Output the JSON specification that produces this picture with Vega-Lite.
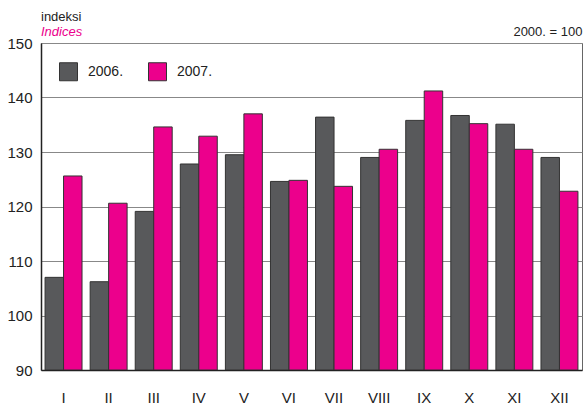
{
  "$schema": "https://vega.github.io/schema/vega-lite/v6.json",
  "width": 541,
  "height": 327,
  "autosize": {"type": "none"},
  "padding": {"left": 41, "top": 43, "right": 2, "bottom": 36},
  "background": "white",
  "config": {
    "font": "Liberation Sans",
    "view": {"stroke": "#666", "strokeWidth": 1}
  },
  "title": {
    "text": "indeksi",
    "subtitle": "Indices",
    "anchor": "start",
    "frame": "group",
    "dx": 0,
    "offset": -13,
    "font": "Liberation Sans",
    "fontSize": 13,
    "fontWeight": "normal",
    "color": "#222",
    "subtitleFont": "Liberation Sans",
    "subtitleFontSize": 13,
    "subtitleFontStyle": "italic",
    "subtitleColor": "#ec008c",
    "subtitlePadding": 2
  },
  "datasets": {
    "bars": [
      {"month": "I", "year": "2006.", "value": 107.0},
      {"month": "I", "year": "2007.", "value": 125.6},
      {"month": "II", "year": "2006.", "value": 106.2},
      {"month": "II", "year": "2007.", "value": 120.6},
      {"month": "III", "year": "2006.", "value": 119.1},
      {"month": "III", "year": "2007.", "value": 134.6},
      {"month": "IV", "year": "2006.", "value": 127.8},
      {"month": "IV", "year": "2007.", "value": 132.9},
      {"month": "V", "year": "2006.", "value": 129.5},
      {"month": "V", "year": "2007.", "value": 137.0},
      {"month": "VI", "year": "2006.", "value": 124.6},
      {"month": "VI", "year": "2007.", "value": 124.8},
      {"month": "VII", "year": "2006.", "value": 136.4},
      {"month": "VII", "year": "2007.", "value": 123.7},
      {"month": "VIII", "year": "2006.", "value": 129.0},
      {"month": "VIII", "year": "2007.", "value": 130.5},
      {"month": "IX", "year": "2006.", "value": 135.8},
      {"month": "IX", "year": "2007.", "value": 141.2},
      {"month": "X", "year": "2006.", "value": 136.7},
      {"month": "X", "year": "2007.", "value": 135.2},
      {"month": "XI", "year": "2006.", "value": 135.1},
      {"month": "XI", "year": "2007.", "value": 130.5},
      {"month": "XII", "year": "2006.", "value": 129.0},
      {"month": "XII", "year": "2007.", "value": 122.8}
    ],
    "note": [{"month": "XII", "value": 150, "label": "2000. = 100"}]
  },
  "layer": [
    {
      "data": {"name": "bars"},
      "mark": {"type": "bar", "stroke": "#333", "strokeWidth": 1, "clip": true},
      "encoding": {
        "x": {
          "field": "month",
          "type": "nominal",
          "sort": null,
          "scale": {"paddingInner": 0.18, "paddingOuter": 0.09},
          "axis": {
            "title": null,
            "labelAngle": 0,
            "labelFontSize": 15,
            "labelColor": "#222",
            "labelPadding": 20,
            "labelBaseline": "top",
            "ticks": false,
            "domainColor": "#222",
            "domainWidth": 1.5
          }
        },
        "xOffset": {"field": "year", "type": "nominal", "scale": {"paddingInner": 0, "paddingOuter": 0}},
        "y": {
          "field": "value",
          "type": "quantitative",
          "scale": {"domain": [90, 150], "nice": false, "zero": false},
          "axis": {
            "title": null,
            "values": [90, 100, 110, 120, 130, 140, 150],
            "labelFontSize": 15,
            "labelColor": "#222",
            "labelPadding": 9,
            "ticks": false,
            "domainColor": "#222",
            "domainWidth": 1.5,
            "gridColor": "#888",
            "gridWidth": 1
          }
        },
        "y2": {"datum": 90},
        "color": {
          "field": "year",
          "type": "nominal",
          "scale": {"domain": ["2006.", "2007."], "range": ["#58595b", "#ec008c"]},
          "legend": {
            "title": null,
            "orient": "none",
            "direction": "horizontal",
            "legendX": 18,
            "legendY": 19,
            "symbolType": "square",
            "symbolSize": 324,
            "symbolStrokeColor": "#333",
            "symbolStrokeWidth": 1,
            "symbolOpacity": 1,
            "labelFontSize": 14,
            "labelColor": "#222",
            "labelOffset": 10,
            "columnPadding": 22
          }
        }
      }
    },
    {
      "data": {"name": "note"},
      "mark": {"type": "text", "align": "right", "baseline": "alphabetic", "dx": 23, "dy": -7, "fontSize": 13, "color": "#222"},
      "encoding": {
        "x": {"field": "month", "type": "nominal", "sort": null},
        "y": {"field": "value", "type": "quantitative"},
        "text": {"field": "label"}
      }
    }
  ]
}
